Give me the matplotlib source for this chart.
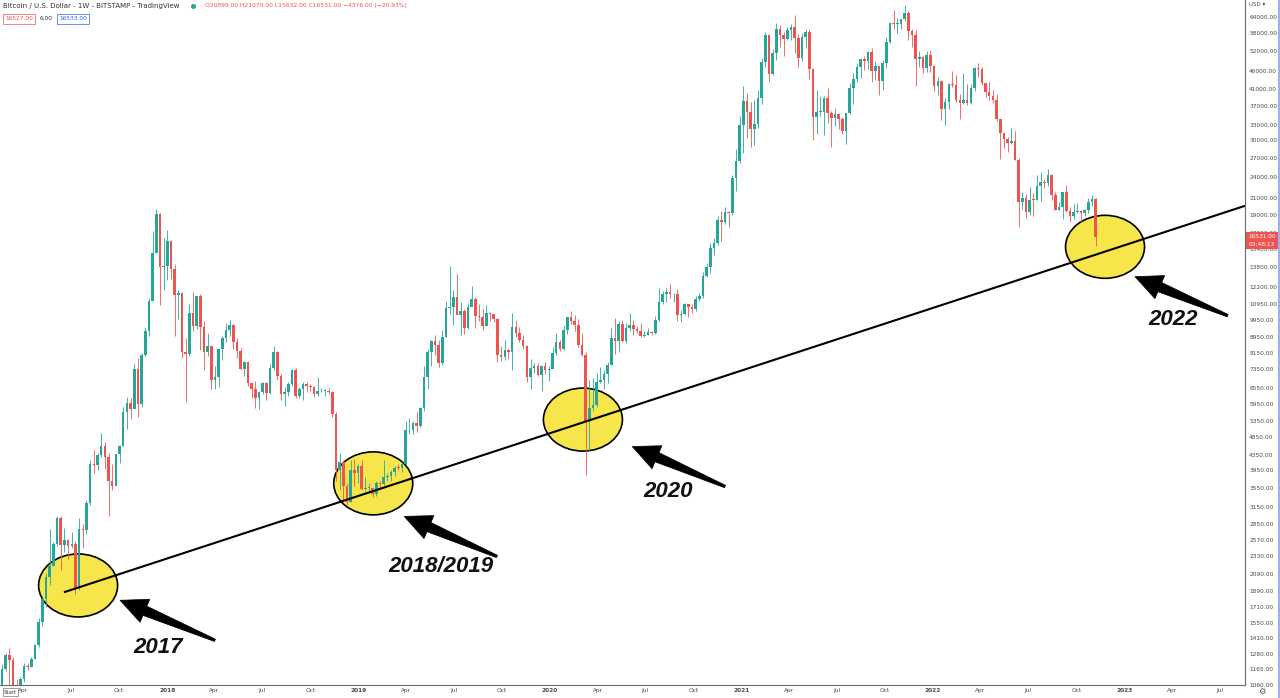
import numpy as np
import pandas as pd
import matplotlib
matplotlib.use("Agg")
import matplotlib.pyplot as plt
import matplotlib.dates as mdates
from matplotlib.patches import Ellipse, Polygon, Rectangle
from matplotlib.lines import Line2D
from matplotlib.transforms import ScaledTranslation
from matplotlib.ticker import NullLocator

# weekly BTC/USD (Bitstamp) candles, rows = high, low, close; weeks start on Monday
first_week = "2017-02-13"
first_open = 1000

hlc_2017 = [
    (1060, 980, 1050), (1200, 1050, 1170), (1290, 1150, 1270), (1330, 980, 1230),
    (1260, 960, 970), (1100, 890, 965), (1110, 940, 1095), (1210, 1080, 1190),
    (1210, 1160, 1185), (1260, 1180, 1240), (1360, 1240, 1350), (1600, 1340, 1560),
    (1800, 1520, 1790), (2100, 1710, 2050), (2760, 1950, 2200), (2550, 2200, 2520),
    (2980, 2480, 2950), (2980, 2150, 2500), (2780, 2400, 2580), (2600, 2300, 2480),
    (2700, 2450, 2510), (2560, 1850, 1920), (2950, 1900, 2750), (2850, 2450, 2740),
    (3300, 2670, 3230), (4200, 3200, 4100), (4480, 3900, 4080), (4400, 3950, 4350),
    (4980, 4300, 4600), (4700, 3980, 4300), (4400, 2980, 3700), (4120, 3500, 3600),
    (4380, 3620, 4370), (4620, 4140, 4600), (5850, 4580, 5650), (6200, 5100, 5990),
    (6150, 5420, 5750), (7600, 6100, 7380), (7880, 5500, 5950), (8150, 5850, 8050),
    (9500, 8000, 9300), (11400, 9000, 11200), (17200, 11200, 15000), (19670, 15000, 19100),
    (19200, 10900, 13800), (16500, 12000, 13850),
]
hlc_2018 = [
    (17250, 12750, 16200), (16300, 12800, 13600), (14000, 9000, 11600), (12000, 10000, 11750),
    (11800, 7900, 8200), (8900, 6000, 8100), (11000, 8000, 10400), (11800, 9300, 9600),
    (11500, 9400, 11500), (11700, 8300, 9550), (9900, 7300, 8200), (9200, 8000, 8500),
    (8500, 6500, 6900), (7500, 6500, 7000), (8400, 6600, 8350), (9000, 7800, 8900),
    (9750, 8700, 9350), (9950, 9000, 9650), (9700, 8350, 8700), (8900, 7900, 8250),
    (8400, 7300, 7350), (7750, 7050, 7700), (7750, 6650, 6750), (6800, 6150, 6500),
    (6850, 5800, 6150), (6450, 5750, 6380), (6800, 6300, 6750), (6800, 6100, 6350),
    (7600, 6300, 7400), (8500, 7300, 8200), (8250, 6900, 7050), (7150, 6100, 6300),
    (6600, 5880, 6400), (6800, 6250, 6700), (7350, 6650, 7300), (7400, 6150, 6250),
    (6600, 6150, 6500), (6800, 6100, 6700), (6800, 6400, 6620), (6700, 6450, 6580),
    (6650, 6200, 6300), (7000, 6250, 6420), (6550, 6400, 6450), (6500, 6250, 6450),
    (6550, 6330, 6400), (6450, 5500, 5600), (5650, 3700, 3950), (4400, 3500, 4150),
    (4200, 3250, 3600), (3650, 3200, 3250), (4200, 3250, 3950), (4250, 3600, 3900),
]
hlc_2019 = [
    (4100, 3650, 4050), (4200, 3500, 3520), (3800, 3480, 3550), (3650, 3450, 3550),
    (3550, 3350, 3420), (3700, 3380, 3650), (3700, 3550, 3630), (4200, 3620, 3800),
    (3900, 3700, 3820), (3950, 3700, 3920), (4050, 3830, 4020), (4100, 3950, 4010),
    (4150, 3920, 4100), (5350, 4080, 5050), (5450, 4950, 5080), (5350, 4950, 5300),
    (5650, 5000, 5180), (5850, 5150, 5800), (7500, 5700, 7000), (8350, 6500, 8200),
    (8800, 7500, 8750), (9100, 8050, 8550), (8800, 7450, 7650), (9350, 7550, 8950),
    (11200, 8950, 10700), (13880, 10300, 10800), (12000, 9650, 11450), (13200, 10300, 10250),
    (11100, 9050, 10550), (10650, 9150, 9500), (11080, 9400, 10800), (12300, 11000, 11300),
    (11450, 9450, 10200), (10950, 9900, 10150), (10650, 9350, 9600), (10900, 9600, 10400),
    (10450, 9900, 10300), (10350, 9850, 10000), (10050, 7700, 8050), (8500, 7750, 7950),
    (8800, 7800, 8300), (8400, 7850, 8200), (10400, 7300, 9550), (9950, 8950, 9200),
    (9550, 8700, 8800), (9100, 8350, 8500), (8550, 6800, 7000), (7850, 6500, 7400),
    (7650, 7200, 7500), (7650, 7050, 7100), (7500, 6450, 7500), (7700, 7150, 7320),
]
hlc_2020 = [
    (7500, 6850, 7350), (8450, 7350, 8150), (9200, 8050, 8700), (8800, 8250, 8350),
    (9600, 8300, 9350), (10150, 9150, 10150), (10500, 9700, 9900), (10250, 9300, 9650),
    (10000, 8450, 8550), (9200, 8000, 8050), (8200, 3850, 5350), (6900, 4450, 5800),
    (6950, 5700, 5900), (7200, 5850, 6800), (7450, 6750, 6900), (7300, 6500, 7150),
    (7700, 6750, 7550), (9450, 7600, 8900), (10050, 8100, 8750), (9900, 8200, 9700),
    (9950, 8700, 8750), (9750, 8650, 9450), (10400, 9300, 9650), (9950, 9100, 9400),
    (9600, 9200, 9300), (9800, 8950, 9000), (9300, 8950, 9050), (9450, 9050, 9250),
    (9300, 9050, 9180), (10200, 9150, 9950), (12100, 9900, 11100), (11900, 11000, 11700),
    (12100, 11150, 11850), (12450, 11400, 11650), (11750, 11150, 11700), (12050, 9900, 10250),
    (10600, 9850, 10350), (11050, 10250, 10950), (10990, 10150, 10750), (10950, 10400, 10680),
    (11500, 10550, 11350), (11750, 11200, 11500), (13350, 11400, 13050), (14100, 12950, 13750),
    (15950, 13250, 15500), (16450, 14850, 15950), (18800, 15800, 18400), (19450, 16200, 18150),
    (19900, 18000, 19350), (19400, 17600, 19150), (24200, 19000, 23850), (28400, 22000, 26500),
    (34800, 26100, 33000),
]
hlc_2021 = [
    (41950, 27700, 38200), (40100, 30400, 35800), (37850, 28800, 32250), (38500, 29200, 33100),
    (40950, 32300, 38900), (49700, 37400, 48600), (58350, 47000, 57400), (57550, 43000, 45200),
    (52600, 44950, 51200), (61800, 49250, 59300), (61000, 53200, 57300), (58400, 50400, 55800),
    (60100, 55400, 58900), (61300, 55550, 60000), (64900, 51300, 56100), (57500, 47100, 49800),
    (58000, 48800, 56600), (59500, 53000, 58200), (59600, 43800, 46400), (46650, 30000, 34650),
    (40900, 31200, 35650), (39500, 34850, 35750), (39300, 31000, 39000), (41300, 33300, 35500),
    (36000, 28800, 34500), (36600, 32700, 35300), (35100, 32100, 34250), (34650, 31100, 31800),
    (35000, 29300, 35400), (42600, 35200, 41500), (45300, 37500, 43800), (48150, 42800, 47100),
    (49400, 43950, 49300), (50500, 46350, 48800), (51900, 46500, 51700), (52900, 42800, 46000),
    (48800, 43400, 47300), (47300, 39600, 43200), (49200, 40750, 48200), (56550, 46900, 54950),
    (62000, 54400, 61500), (67000, 59600, 61300), (63700, 58000, 61300), (63300, 59400, 63300),
    (69000, 62300, 65500), (66300, 55600, 58600), (59300, 53300, 57200), (59150, 42000, 49400),
    (51900, 46950, 50100), (50350, 45500, 46700), (51900, 45600, 50800), (52100, 45700, 47300),
]
hlc_2022 = [
    (47550, 40600, 41850), (44400, 39650, 43100), (43500, 34000, 36300), (38900, 32900, 37900),
    (42600, 36300, 42400), (45850, 41700, 42200), (44750, 38000, 38400), (39800, 34300, 37700),
    (45400, 37500, 38400), (42500, 37200, 37800), (42400, 37600, 41300), (46950, 40500, 46850),
    (48200, 44250, 46400), (47200, 42150, 42750), (41550, 39200, 40400), (42950, 38550, 39450),
    (40800, 37700, 38500), (40000, 33700, 34100), (34300, 26700, 31300), (31300, 28650, 30300),
    (30650, 28000, 29450), (32400, 29300, 29900), (31750, 26550, 26600), (26850, 17600, 20550),
    (21850, 19650, 21050), (21550, 18650, 19300), (22500, 19000, 20850), (21650, 18900, 20800),
    (24300, 20750, 22600), (24650, 20700, 23300), (23650, 22450, 23150), (25200, 22700, 24300),
    (24450, 20750, 21500), (21800, 19550, 19550), (20600, 19550, 19950), (21850, 18550, 21800),
    (22800, 19350, 19420), (19950, 18150, 18800), (20350, 18500, 19300), (20450, 19150, 19430),
    (19550, 18150, 19180), (19700, 18900, 19550), (21050, 19250, 20600), (21450, 20050, 20899),
    (21070, 15632, 16531),
]

price_ticks = [64000, 58000, 52000, 46000, 41000, 37000, 33000, 30000, 27000, 24000,
               21000, 19000, 17000, 15400, 13800, 12200, 10950, 9950, 8950, 8150, 7350,
               6550, 5950, 5350, 4850, 4350, 3950, 3550, 3150, 2850, 2570, 2330, 2090,
               1890, 1710, 1550, 1410, 1280, 1165, 1060]
time_ticks = ["2017-04-01", "2017-07-01", "2017-10-01", "2018-01-01", "2018-04-01",
              "2018-07-01", "2018-10-01", "2019-01-01", "2019-04-01", "2019-07-01",
              "2019-10-01", "2020-01-01", "2020-04-01", "2020-07-01", "2020-10-01",
              "2021-01-01", "2021-04-01", "2021-07-01", "2021-10-01", "2022-01-01",
              "2022-04-01", "2022-07-01", "2022-10-01", "2023-01-01", "2023-04-01",
              "2023-07-01"]
time_labels = ["Apr", "Jul", "Oct", "2018", "Apr", "Jul", "Oct", "2019", "Apr", "Jul",
               "Oct", "2020", "Apr", "Jul", "Oct", "2021", "Apr", "Jul", "Oct", "2022",
               "Apr", "Jul", "Oct", "2023", "Apr", "Jul"]

# support-line touches: (date, price) of circle centres, arrows and labels
touch_labels = ["2017", "2018/2019", "2020", "2022"]
circle_dates = ["2017-07-15", "2019-01-29", "2020-03-04", "2022-11-25"]
circle_prices = [1950, 3650, 5400, 15600]
arrow_tips = [("2017-10-03", 1780), ("2019-03-29", 2980), ("2020-06-06", 4576), ("2023-01-21", 12990)]
arrow_tails = [("2018-04-02", 1392), ("2019-09-22", 2330), ("2020-11-30", 3580), ("2023-07-17", 10220)]
label_pos = [("2017-12-15", 1333), ("2019-06-07", 2193), ("2020-08-13", 3471), ("2023-04-03", 9970)]
trend_start = ("2017-06-18", 1870)
trend_end = ("2023-08-19", 20070)

GREEN = "#26a69a"
RED = "#ef5350"
TXT = "#4a4a4a"

hlc = np.array(hlc_2017 + hlc_2018 + hlc_2019 + hlc_2020 + hlc_2021 + hlc_2022, dtype=float)
high, low, close = hlc.T
open_ = np.r_[first_open, close[:-1]]
weeks = pd.date_range(first_week, periods=len(close), freq="7D")
x = mdates.date2num(weeks)

W, H = 1280, 698
fig = plt.figure(figsize=(W / 100, H / 100), dpi=100)
ax = fig.add_axes([0, 13 / H, 1245 / W, 685 / H])

def d(s):
    return mdates.date2num(pd.Timestamp(s))

def fp(px, py):
    return px / W, 1 - py / H

ax.set_yscale("log")
ax.set_ylim(1058, 71030)
ax.set_xlim(d("2017-02-16"), d("2023-08-19"))

# support circles (below candles)
for dt, pr in zip(circle_dates, circle_prices):
    tr = fig.dpi_scale_trans + ScaledTranslation(d(dt), pr, ax.transData)
    ax.add_patch(Ellipse((0, 0), 0.79, 0.63, transform=tr, facecolor="#f6e64b",
                         edgecolor="black", lw=1.2, zorder=1))

# candles
up = close >= open_
colors = np.where(up, GREEN, RED)
ax.vlines(x, low, high, colors=colors, lw=0.6, zorder=2)
body_lo = np.minimum(open_, close)
body_hi = np.maximum(np.maximum(open_, close), body_lo * 1.005)
ax.bar(x, body_hi - body_lo, bottom=body_lo, width=5, color=colors, linewidth=0, zorder=2)

# trend line
ax.plot([d(trend_start[0]), d(trend_end[0])], [trend_start[1], trend_end[1]],
        color="black", lw=1.5, zorder=3, solid_capstyle="butt")

def wedge_arrow(tail, tip, head_len=27, head_w=25, base_w=10, tail_w=2.5):
    # tapered shaft with a triangular head, built in pixels
    s = ax.transData.transform((d(tail[0]), tail[1]))
    t = ax.transData.transform((d(tip[0]), tip[1]))
    u = (t - s) / np.hypot(*(t - s))
    n = np.array([-u[1], u[0]])
    b = t - u * head_len
    pts = [s + n * tail_w / 2, b + n * base_w / 2, b + n * head_w / 2, t,
           b - n * head_w / 2, b - n * base_w / 2, s - n * tail_w / 2]
    ax.add_patch(Polygon(pts, closed=True, transform=None, facecolor="black",
                         edgecolor="black", lw=0.5, zorder=4))

for tip, tail, (ld, lp), lab in zip(arrow_tips, arrow_tails, label_pos, touch_labels):
    wedge_arrow(tail, tip)
    ax.text(d(ld), lp, lab, ha="center", va="center", fontsize=16, fontweight="bold",
            fontstyle="italic", family="Liberation Sans", color="#111111", zorder=4)

ax.yaxis.tick_right()
ax.yaxis.set_minor_locator(NullLocator())
ax.set_yticks(price_ticks)
ax.set_yticklabels([f"{p:.2f}" for p in price_ticks])
ax.set_xticks([d(t) for t in time_ticks])
ax.set_xticklabels(time_labels)
ax.xaxis.set_minor_locator(NullLocator())
ax.tick_params(axis="y", length=0, pad=3, labelsize=4.2, labelcolor=TXT)
ax.tick_params(axis="x", length=0, pad=2.5, labelsize=4.2, labelcolor=TXT)
for lbl in ax.get_xticklabels():
    if lbl.get_text().isdigit():
        lbl.set_fontweight("bold")
for s in ["left", "top"]:
    ax.spines[s].set_visible(False)
for s in ["right", "bottom"]:
    ax.spines[s].set_color("#6b6b6b")
    ax.spines[s].set_linewidth(0.8)

# header
fig.text(*fp(3, 6), "Bitcoin / U.S. Dollar - 1W - BITSTAMP - TradingView", fontsize=5.0,
         color="#333333", va="center")
fig.add_artist(Line2D([193 / W], [1 - 6 / H], marker="o", markersize=2.6, color=GREEN,
                      transform=fig.transFigure))
fig.text(*fp(205, 6), "O20899.00 H21070.00 L15632.00 C16531.00 \u22124376.00 (\u221220.93%)",
         fontsize=4.3, color=RED, va="center")
fig.text(*fp(5, 19), "16527.00", fontsize=4.2, color=RED, va="center",
         bbox=dict(boxstyle="square,pad=0.35", fc="white", ec=RED, lw=0.5))
fig.text(*fp(40, 19), "6.00", fontsize=4.2, color="#333333", va="center")
fig.text(*fp(59, 19), "16533.00", fontsize=4.2, color="#2962ff", va="center",
         bbox=dict(boxstyle="square,pad=0.35", fc="white", ec="#2962ff", lw=0.5))

# price axis extras
fig.text(*fp(1249, 4), "USD \u25be", fontsize=4.0, color=TXT, va="center")
fig.add_artist(Rectangle(fp(1246, 249), 33 / W, 17 / H, transform=fig.transFigure,
                         facecolor=RED, edgecolor="none"))
fig.text(*fp(1262, 236), "16531.00", fontsize=4.2, color="white", ha="center", va="center")
fig.text(*fp(1262, 244), "03:48:13", fontsize=4.2, color="white", ha="center", va="center")
fig.text(*fp(1262, 691), "\u2699", fontsize=6, color="#555555", ha="center", va="center")
fig.text(*fp(4, 692), "Start", fontsize=3.8, color="#333333", va="center",
         bbox=dict(boxstyle="square,pad=0.25", fc="white", ec="#777777", lw=0.5))
fig.add_artist(Line2D([1279 / W, 1279 / W], [0, 1], color="#9fb0ea", lw=1.5,
                      transform=fig.transFigure))

fig.savefig("out.png", dpi=100, facecolor="white")
